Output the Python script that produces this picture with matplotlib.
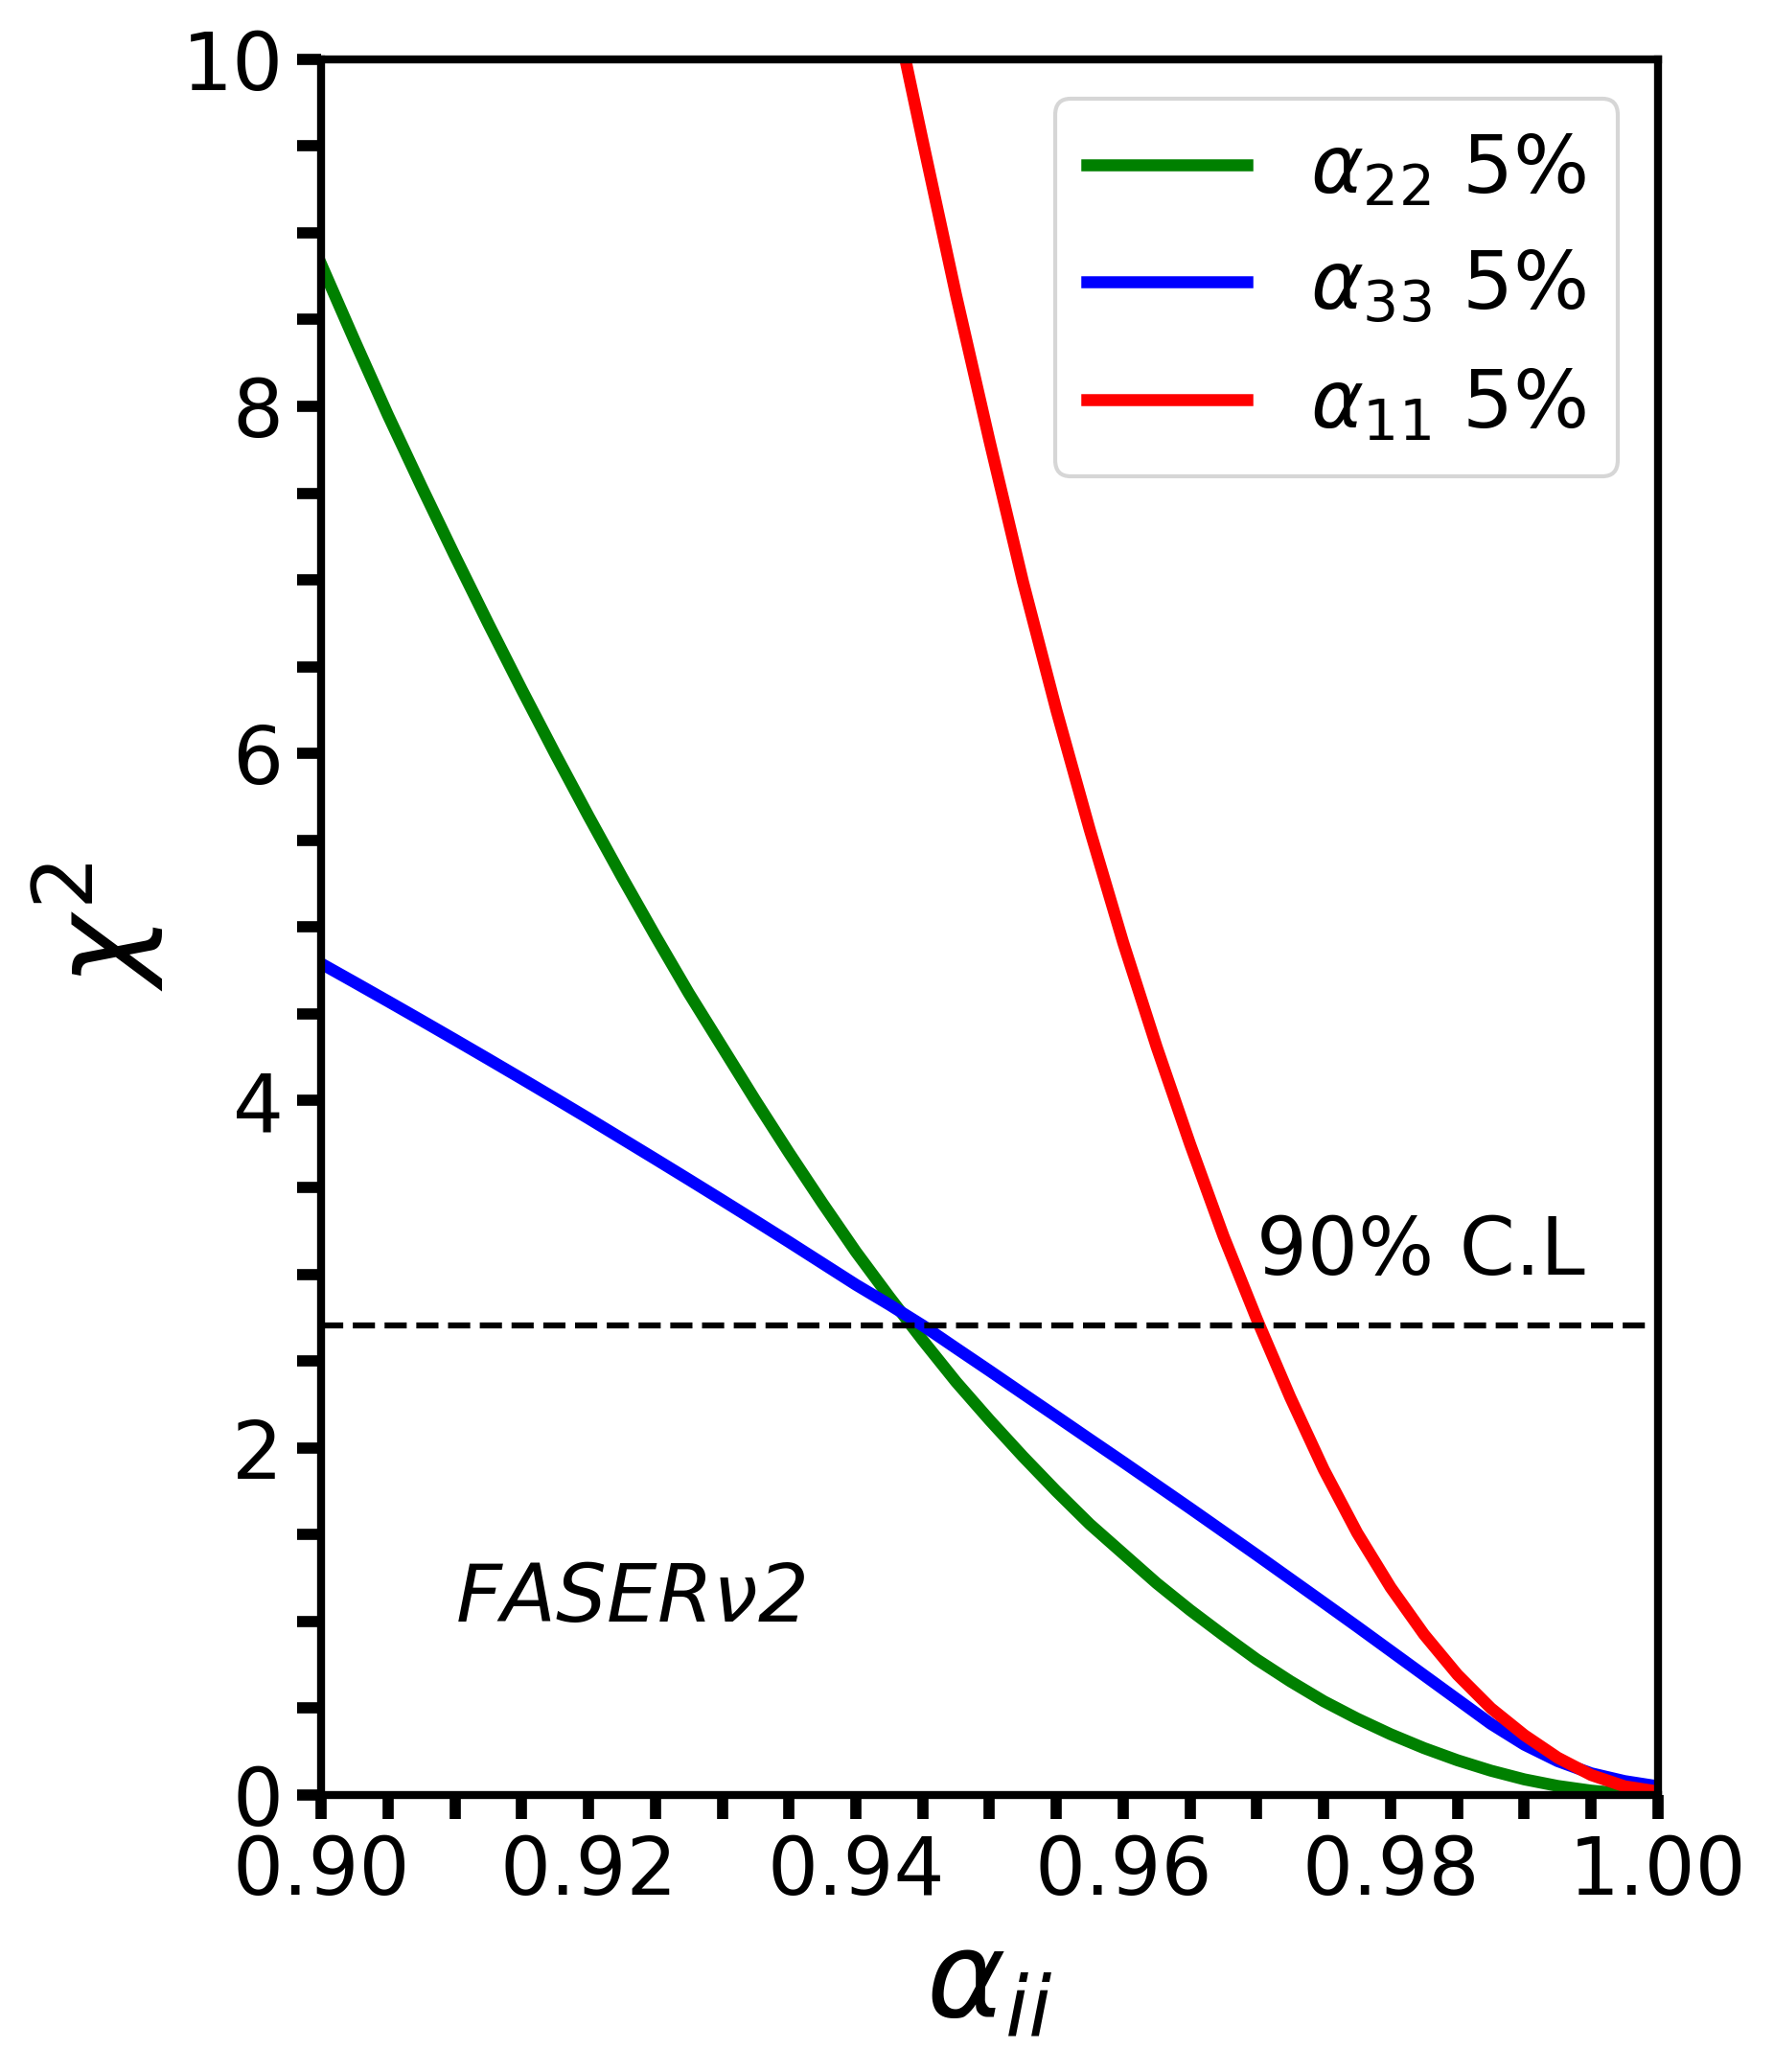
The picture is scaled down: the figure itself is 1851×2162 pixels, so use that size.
"""
chi-square profiles of the non-unitarity parameters alpha_ii for FASERnu2
"""
import matplotlib
matplotlib.use("Agg")
import matplotlib.pyplot as plt
from matplotlib.ticker import MultipleLocator

# values (every 0.0025 in alpha_ii)
grid_x = [0.9000, 0.9025, 0.9050, 0.9075, 0.9100, 0.9125, 0.9150, 0.9175, 0.9200, 0.9225,
          0.9250, 0.9275, 0.9300, 0.9325, 0.9350, 0.9375, 0.9400, 0.9425, 0.9450, 0.9475,
          0.9500, 0.9525, 0.9550, 0.9575, 0.9600, 0.9625, 0.9650, 0.9675, 0.9700, 0.9725,
          0.9750, 0.9775, 0.9800, 0.9825, 0.9850, 0.9875, 0.9900, 0.9925, 0.9950, 0.9975,
          1.0000]

alpha22_chi2 = [8.82, 8.38, 7.95, 7.54, 7.14, 6.75, 6.37, 6.00, 5.64, 5.29,
                4.95, 4.62, 4.31, 4.00, 3.70, 3.41, 3.13, 2.87, 2.62, 2.38,
                2.16, 1.95, 1.75, 1.56, 1.39, 1.22, 1.065, 0.92, 0.78, 0.655,
                0.54, 0.44, 0.35, 0.27, 0.20, 0.14, 0.09, 0.052, 0.025, 0.008,
                0.002]

alpha33_chi2 = [4.790, 4.682, 4.573, 4.463, 4.352, 4.240, 4.127, 4.013, 3.898, 3.781,
                3.664, 3.546, 3.427, 3.307, 3.186, 3.063, 2.940, 2.825, 2.705, 2.574,
                2.444, 2.312, 2.181, 2.049, 1.918, 1.785, 1.652, 1.517, 1.382, 1.245,
                1.108, 0.970, 0.830, 0.690, 0.550, 0.410, 0.290, 0.195, 0.125, 0.080,
                0.050]

# alpha_11 only enters the frame at chi2 = 10
alpha11_x = [0.9437, 0.9450, 0.9475, 0.9500, 0.9525, 0.9550, 0.9575, 0.9600, 0.9625,
             0.9650, 0.9675, 0.9700, 0.9725, 0.9750, 0.9775, 0.9800, 0.9825, 0.9850,
             0.9875, 0.9900, 0.9925, 0.9950, 0.9975, 1.0000]
alpha11_chi2 = [10.0, 9.53, 8.64, 7.80, 6.99, 6.25, 5.56, 4.91, 4.31,
                3.75, 3.22, 2.74, 2.29, 1.875, 1.51, 1.196, 0.925, 0.693,
                0.50, 0.345, 0.215, 0.115, 0.05, 0.02]

cl90 = 2.706
labels = [r'$\alpha_{22}$ 5%', r'$\alpha_{33}$ 5%', r'$\alpha_{11}$ 5%']


def make_plot():
    """
    draws the three curves, the 90% C.L line and the labels, saves out.png
    """
    fig = plt.figure(figsize=(1852 / 300, 2162 / 300), dpi=300)
    ax = fig.add_axes([0.1809, 0.1337, 0.7532, 0.8377])

    ax.plot(grid_x, alpha22_chi2, color='green', lw=3, label=labels[0])
    ax.plot(grid_x, alpha33_chi2, color='blue', lw=3, label=labels[1])
    ax.plot(alpha11_x, alpha11_chi2, color='red', lw=3, label=labels[2])
    ax.axhline(cl90, color='black', ls='--', lw=1.5)

    ax.text(0.970, 3.0, '90% C.L', fontsize=20)
    ax.text(0.910, 1.0, r'FASER$\nu$2', fontsize=20, style='italic')

    ax.set_xlim(0.90, 1.00)
    ax.set_ylim(0, 10)
    ax.xaxis.set_major_locator(MultipleLocator(0.02))
    ax.xaxis.set_minor_locator(MultipleLocator(0.005))
    ax.yaxis.set_major_locator(MultipleLocator(2))
    ax.yaxis.set_minor_locator(MultipleLocator(0.5))
    ax.tick_params(which='both', direction='out', length=6, width=2.8, labelsize=20)
    for spine in ax.spines.values():
        spine.set_linewidth(2)

    ax.set_xlabel(r'$\alpha_{ii}$', fontsize=30)
    ax.set_ylabel(r'$\chi^2$', fontsize=30)
    ax.legend(fontsize=20)

    fig.savefig('out.png', dpi=300)


make_plot()
